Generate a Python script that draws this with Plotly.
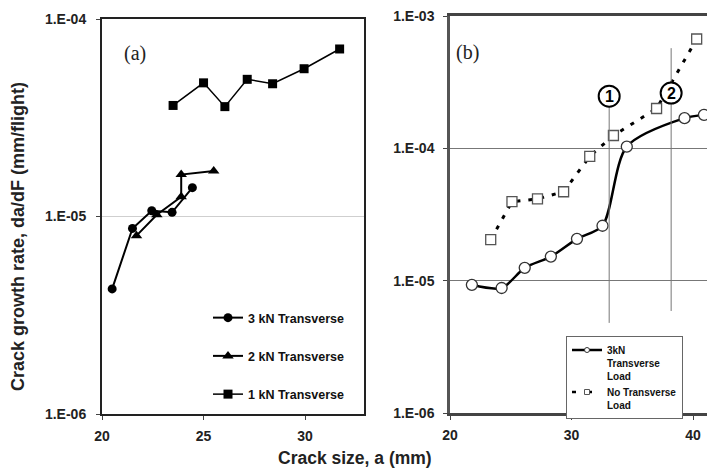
import plotly.graph_objects as go

# ---------------- data ----------------
# Panel (a)
a3_x = [20.5, 21.5, 22.45, 23.45, 24.45]
a3_y = [4.3e-6, 8.7e-6, 1.07e-5, 1.05e-5, 1.4e-5]
a2_x = [21.7, 22.7, 23.9, 23.9, 25.5]
a2_y = [8.0e-6, 1.02e-5, 1.26e-5, 1.63e-5, 1.70e-5]
a1_x = [23.5, 25.0, 26.05, 27.15, 28.4, 29.95, 31.7]
a1_y = [3.65e-5, 4.75e-5, 3.6e-5, 4.95e-5, 4.7e-5, 5.6e-5, 7.05e-5]

# Panel (b)
b3_x = [21.8, 24.25, 26.15, 28.3, 30.45, 32.55, 34.55, 39.3, 40.9]
b3_y = [9.3e-6, 8.8e-6, 1.25e-5, 1.52e-5, 2.07e-5, 2.6e-5, 1.03e-4, 1.69e-4, 1.79e-4]
b0_x = [23.35, 25.1, 27.2, 29.35, 31.5, 33.45, 37.0, 40.3]
b0_y = [2.04e-5, 3.95e-5, 4.15e-5, 4.7e-5, 8.7e-5, 1.25e-4, 2.0e-4, 6.7e-4]

y_ticks_a = [1e-6, 1e-5, 1e-4]
y_ticks_b = [1e-6, 1e-5, 1e-4, 1e-3]
y_labels_a = ["1.E-06", "1.E-05", "1.E-04"]
y_labels_b = ["1.E-06", "1.E-05", "1.E-04", "1.E-03"]
x_ticks_a = [20, 25, 30]
x_ticks_b = [20, 30, 40]

marker_lines_x = [33.1, 38.2]
marker_labels = ["1", "2"]

FONT = "Liberation Sans, Arial, sans-serif"
W, H = 707, 473

fig = go.Figure()

# ---- panel (a) traces ----
fig.add_trace(go.Scatter(x=a3_x, y=a3_y, mode="lines+markers", name="3 kN Transverse",
                         line=dict(color="black", width=2),
                         marker=dict(symbol="circle", size=9, color="black"),
                         xaxis="x", yaxis="y", legend="legend", legendgroup="g1"))
fig.add_trace(go.Scatter(x=a2_x, y=a2_y, mode="lines+markers", name="2 kN Transverse",
                         line=dict(color="black", width=2),
                         marker=dict(symbol="triangle-up", size=10, color="black"),
                         xaxis="x", yaxis="y", legend="legend", legendgroup="g2"))
fig.add_trace(go.Scatter(x=a1_x, y=a1_y, mode="lines+markers", name="1 kN Transverse",
                         line=dict(color="black", width=1.5),
                         marker=dict(symbol="square", size=9, color="black"),
                         xaxis="x", yaxis="y", legend="legend", legendgroup="g3"))

# ---- panel (b) traces ----
fig.add_trace(go.Scatter(x=b0_x, y=b0_y, mode="lines", showlegend=False,
                         line=dict(color="black", width=3, dash="4px,8px"),
                         xaxis="x2", yaxis="y2"))
fig.add_trace(go.Scatter(x=b0_x, y=b0_y, mode="markers", showlegend=False,
                         marker=dict(symbol="square", size=10, color="white",
                                     line=dict(width=1.3, color="#555")),
                         xaxis="x2", yaxis="y2"))
fig.add_trace(go.Scatter(x=b3_x, y=b3_y, mode="lines+markers", showlegend=False,
                         line=dict(color="black", width=2.5, shape="spline", smoothing=0.8),
                         marker=dict(symbol="circle", size=11, color="white",
                                     line=dict(width=1.3, color="#333")),
                         xaxis="x2", yaxis="y2"))
# legend stand-ins for panel (b)
fig.add_trace(go.Scatter(x=[None], y=[None], mode="lines+markers",
                         name="3kN<br>Transverse<br>Load",
                         line=dict(color="black", width=2.5),
                         marker=dict(symbol="circle", size=5, color="white",
                                     line=dict(width=1, color="#333")),
                         xaxis="x2", yaxis="y2", legend="legend2"))
fig.add_trace(go.Scatter(x=[None], y=[None], mode="lines+markers",
                         name="No Transverse<br>Load",
                         line=dict(color="black", width=2.5, dash="4px,12px"),
                         marker=dict(symbol="square", size=5, color="white",
                                     line=dict(width=1, color="#555")),
                         xaxis="x2", yaxis="y2", legend="legend2"))

tickfont = dict(family=FONT, size=14, color="#222", weight="bold")

fig.update_layout(
    template="none",
    width=W, height=H,
    margin=dict(l=0, r=0, t=0, b=0, pad=0, autoexpand=False),
    paper_bgcolor="white", plot_bgcolor="white",
    font=dict(family=FONT),
    xaxis=dict(domain=[102 / W, 364 / W], range=[20, 32.9], tickvals=x_ticks_a,
               showgrid=False, zeroline=False, showline=True, mirror=True,
               linecolor="#222", linewidth=2, ticks="outside", ticklen=4,
               tickcolor="#444", tickfont=tickfont, anchor="y", automargin=False,
               ticklabelstandoff=4),
    yaxis=dict(domain=[1 - 414 / H, 1 - 19 / H], type="log", range=[-6, -4],
               tickvals=y_ticks_a, ticktext=y_labels_a,
               showgrid=True, gridcolor="#cfcfcf", gridwidth=1, zeroline=False,
               showline=True, mirror=True, linecolor="#222", linewidth=2,
               ticks="outside", ticklen=4, tickcolor="#444", tickfont=tickfont,
               anchor="x", automargin=False, ticklabelstandoff=7),
    xaxis2=dict(domain=[450 / W, 1.0], range=[20, 41.15], tickvals=x_ticks_b,
                showgrid=False, zeroline=False, showline=True, mirror=True,
                linecolor="#444", linewidth=2.5, ticks="outside", ticklen=4,
                tickcolor="#444", tickfont=tickfont, anchor="y2", automargin=False,
                ticklabelstandoff=3),
    yaxis2=dict(domain=[1 - 413 / H, 1 - 16 / H], type="log", range=[-6, -3],
                tickvals=y_ticks_b, ticktext=y_labels_b,
                showgrid=True, gridcolor="#777", gridwidth=1, zeroline=False,
                showline=True, mirror=True, linecolor="#555", linewidth=2.5,
                ticks="outside", ticklen=4, tickcolor="#444", tickfont=tickfont,
                anchor="x2", automargin=False, ticklabelstandoff=6),
    legend=dict(x=208 / W, y=1 - 303 / H, xanchor="left", yanchor="top",
                bgcolor="rgba(0,0,0,0)", borderwidth=0,
                font=dict(family=FONT, size=12.5, color="#111", weight="bold"),
                tracegroupgap=19, traceorder="grouped", itemwidth=30),
    legend2=dict(x=566 / W, y=1 - 336 / H, xanchor="left", yanchor="top",
                 bgcolor="white", bordercolor="#666", borderwidth=1,
                 font=dict(family=FONT, size=10, color="#111", weight="bold"),
                 valign="top", itemwidth=30, tracegroupgap=0),
    showlegend=True,
)

# axis titles & panel labels
fig.add_annotation(text="Crack growth rate, da/dF (mm/flight)", xref="paper", yref="paper",
                   x=18 / W, y=1 - 237 / H, xanchor="center", yanchor="middle",
                   textangle=-90, showarrow=False,
                   font=dict(family=FONT, size=18, color="#222", weight="bold"))
fig.add_annotation(text="Crack size, a (mm)", xref="paper", yref="paper",
                   x=355 / W, y=1 - 458 / H, xanchor="center", yanchor="middle",
                   showarrow=False,
                   font=dict(family=FONT, size=17.5, color="#222", weight="bold"))
fig.add_annotation(text="(a)", xref="paper", yref="paper", x=135 / W, y=1 - 53 / H,
                   xanchor="center", yanchor="middle", showarrow=False,
                   font=dict(family="Liberation Serif, Times New Roman, serif",
                             size=20, color="#222"))
fig.add_annotation(text="(b)", xref="paper", yref="paper", x=467 / W, y=1 - 52 / H,
                   xanchor="center", yanchor="middle", showarrow=False,
                   font=dict(family="Liberation Serif, Times New Roman, serif",
                             size=20, color="#222"))

# marker lines with circled numbers (panel b)
line_tops = [0.773, 0.919]
line_bottoms = [0.227, 0.257]
circle_ys = [0.798, 0.806]
for xv, lab, yt, yb, cy in zip(marker_lines_x, marker_labels, line_tops, line_bottoms, circle_ys):
    fig.add_shape(type="line", xref="x2", yref="y2 domain", x0=xv, x1=xv, y0=yb, y1=yt,
                  line=dict(color="#777", width=1), layer="above")
    fig.add_shape(type="circle", xref="x2", yref="y2 domain", xsizemode="pixel",
                  ysizemode="pixel", xanchor=xv, yanchor=cy, x0=-10.5, x1=10.5, y0=-10.5, y1=10.5,
                  line=dict(color="black", width=2), fillcolor="white", layer="above")
    fig.add_annotation(text=lab, xref="x2", yref="y2 domain", x=xv, y=cy,
                       xanchor="center", yanchor="middle", showarrow=False,
                       font=dict(family=FONT, size=16, color="black", weight="bold"))

fig.write_html("out.html",
               config={"displayModeBar": False},
               post_script="document.body.style.margin='0px';"
                           "document.body.style.overflow='hidden';")
